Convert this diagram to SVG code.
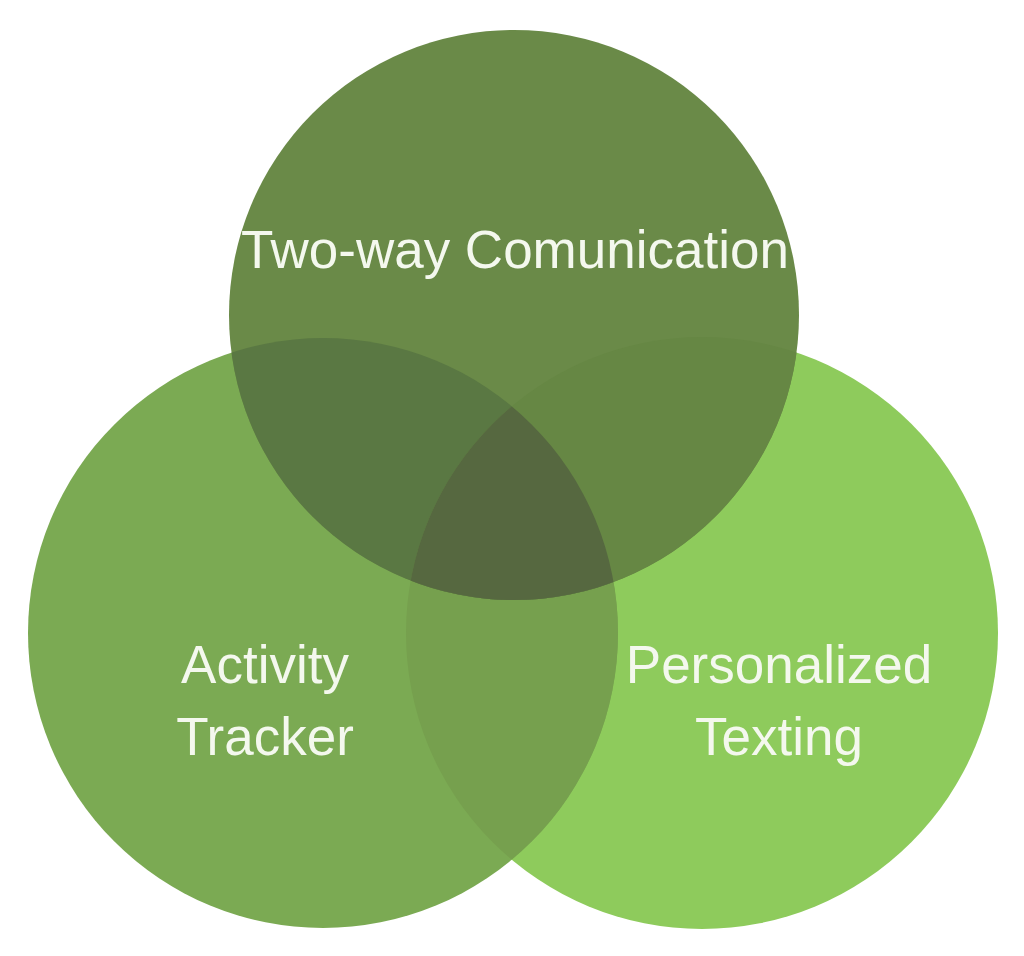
<svg xmlns="http://www.w3.org/2000/svg" width="1024" height="956" viewBox="0 0 1024 956">
<style>
.lbl{font-family:"Liberation Sans",Arial,sans-serif;font-size:53px;fill:#f4f8ee;text-anchor:middle}
</style>
<defs>
<clipPath id="cL"><circle cx="323" cy="633" r="295"/></clipPath>
<clipPath id="cR"><circle cx="702" cy="633" r="296"/></clipPath>
<clipPath id="cT"><circle cx="514" cy="315" r="285"/></clipPath>
</defs>
<rect width="1024" height="956" fill="#ffffff"/>
<g id="right"><circle cx="702" cy="633" r="296" fill="#8ecb5c"/></g>
<g id="left"><circle cx="323" cy="633" r="295" fill="#7baa53"/></g>
<g id="left-right"><circle cx="702" cy="633" r="296" fill="#76a04e" clip-path="url(#cL)"/></g>
<g id="top"><circle cx="514" cy="315" r="285" fill="#6a8a48"/></g>
<g id="top-left"><circle cx="514" cy="315" r="285" fill="#5a7843" clip-path="url(#cL)"/></g>
<g id="top-right"><circle cx="514" cy="315" r="285" fill="#668744" clip-path="url(#cR)"/></g>
<g id="center" clip-path="url(#cL)"><circle cx="514" cy="315" r="285" fill="#566840" clip-path="url(#cR)"/></g>
<g id="labels">
<text class="lbl" x="515" y="268">Two-way Comunication</text>
<text class="lbl" x="265" y="683">Activity</text>
<text class="lbl" x="265" y="755">Tracker</text>
<text class="lbl" x="779" y="683">Personalized</text>
<text class="lbl" x="779" y="755">Texting</text>
</g>
</svg>
